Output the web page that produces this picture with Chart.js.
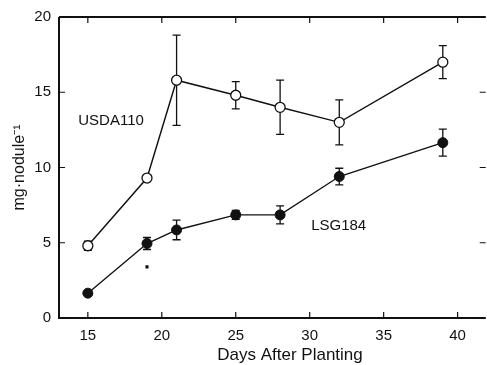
<!DOCTYPE html>
<html>
<head>
<meta charset="utf-8">
<script src="https://cdn.jsdelivr.net/npm/chart.js@4/dist/chart.umd.min.js"></script>
<style>
  html, body { margin: 0; padding: 0; background: #fff; overflow: hidden; }
  #wrap { width: 492px; height: 365px; }
</style>
</head>
<body>
<div id="wrap"><canvas id="noduleChart"></canvas></div>
<script>
// data
var days = [15, 19, 21, 25, 28, 32, 39];
var usdaMean = [4.8, 9.3, 15.8, 14.8, 14.0, 13.0, 17.0];
var usdaErr = [0.3, 0, 3.0, 0.9, 1.8, 1.5, 1.1];
var lsgMean = [1.65, 4.95, 5.85, 6.85, 6.85, 9.4, 11.65];
var lsgErr = [0, 0.4, 0.65, 0.3, 0.6, 0.55, 0.9];
var strayPoint = [{ x: 19, y: 3.4 }];
var xTicks = [15, 20, 25, 30, 35, 40];
var yTicks = [0, 5, 10, 15, 20];
var seriesLabels = [
  { text: 'USDA110', x: 14.35, y: 13.1 },
  { text: 'LSG184', x: 30.1, y: 6.15 }
];
var xTitle = 'Days After Planting';

function toPoints(xs, ys) {
  return xs.map(function (x, i) { return { x: x, y: ys[i] }; });
}

var FONT = '"Liberation Sans", Arial, sans-serif';

// error bars (drawn under the markers)
var errorBars = {
  id: 'errorBars',
  beforeDatasetsDraw: function (chart) {
    var ctx = chart.ctx, xs = chart.scales.x, ys = chart.scales.y;
    ctx.save();
    ctx.strokeStyle = '#111';
    ctx.lineWidth = 1.3;
    [[usdaMean, usdaErr], [lsgMean, lsgErr]].forEach(function (s) {
      days.forEach(function (d, i) {
        var e = s[1][i];
        if (!e) return;
        var px = xs.getPixelForValue(d);
        var top = ys.getPixelForValue(s[0][i] + e);
        var bot = ys.getPixelForValue(s[0][i] - e);
        ctx.beginPath();
        ctx.moveTo(px, top); ctx.lineTo(px, bot);
        ctx.moveTo(px - 4, top); ctx.lineTo(px + 4, top);
        ctx.moveTo(px - 4, bot); ctx.lineTo(px + 4, bot);
        ctx.stroke();
      });
    });
    ctx.restore();
  }
};

// frame with inward ticks, series labels and the x title
var frame = {
  id: 'frame',
  afterDraw: function (chart) {
    var ctx = chart.ctx, a = chart.chartArea, xs = chart.scales.x, ys = chart.scales.y;
    ctx.save();
    ctx.strokeStyle = '#111';
    ctx.lineWidth = 2;
    ctx.beginPath();
    ctx.moveTo(a.left, a.top); ctx.lineTo(a.left, a.bottom); ctx.lineTo(a.right, a.bottom);
    ctx.moveTo(a.left, a.top); ctx.lineTo(a.right, a.top);
    ctx.stroke();
    ctx.lineWidth = 1.2;
    ctx.beginPath();
    xTicks.forEach(function (t) {
      var px = xs.getPixelForValue(t);
      ctx.moveTo(px, a.bottom); ctx.lineTo(px, a.bottom - 6);
      ctx.moveTo(px, a.top); ctx.lineTo(px, a.top + 6);
    });
    yTicks.forEach(function (t) {
      var py = ys.getPixelForValue(t);
      ctx.moveTo(a.left, py); ctx.lineTo(a.left + 6, py);
      ctx.moveTo(a.right, py); ctx.lineTo(a.right - 6, py);
    });
    ctx.stroke();
    ctx.fillStyle = '#111';
    ctx.font = '15px ' + FONT;
    ctx.textBaseline = 'middle';
    ctx.textAlign = 'left';
    seriesLabels.forEach(function (l) {
      ctx.fillText(l.text, xs.getPixelForValue(l.x), ys.getPixelForValue(l.y));
    });
    ctx.font = '17px ' + FONT;
    ctx.textAlign = 'center';
    ctx.fillText(xTitle, a.left + 231, a.bottom + 37);
    ctx.restore();
  }
};

var ctxNodule = document.getElementById('noduleChart').getContext('2d');
var noduleChart = new Chart(ctxNodule, {
  type: 'scatter',
  data: {
    datasets: [{
      label: 'USDA110',
      data: toPoints(days, usdaMean),
      showLine: true,
      borderColor: '#111',
      borderWidth: 1.4,
      pointRadius: 5,
      pointBackgroundColor: '#fff',
      pointBorderColor: '#111',
      pointBorderWidth: 1.3
    }, {
      label: 'LSG184',
      data: toPoints(days, lsgMean),
      showLine: true,
      borderColor: '#111',
      borderWidth: 1.4,
      pointRadius: 5,
      pointBackgroundColor: '#111',
      pointBorderColor: '#111',
      pointBorderWidth: 1
    }, {
      label: 'stray',
      data: strayPoint,
      pointStyle: 'rect',
      pointRadius: 2.2,
      pointBackgroundColor: '#111',
      pointBorderColor: '#111',
      pointBorderWidth: 0
    }]
  },
  options: {
    responsive: true,
    maintainAspectRatio: false,
    animation: false,
    events: [],
    layout: { padding: { top: 15, right: 0, left: 0, bottom: 0 } },
    plugins: {
      legend: { display: false },
      tooltip: { enabled: false }
    },
    scales: {
      x: {
        type: 'linear',
        min: 13.05,
        max: 41.9,
        grid: { display: false, drawTicks: false },
        border: { display: false },
        afterBuildTicks: function (scale) {
          scale.ticks = xTicks.map(function (v) { return { value: v }; });
        },
        afterFit: function (scale) { scale.height = 47; },
        ticks: { color: '#111', font: { family: FONT, size: 15 }, padding: 9, maxRotation: 0 }
      },
      y: {
        min: 0,
        max: 20,
        grid: { display: false, drawTicks: false },
        border: { display: false },
        afterBuildTicks: function (scale) {
          scale.ticks = yTicks.map(function (v) { return { value: v }; });
        },
        afterFit: function (scale) { scale.width = 59; },
        ticks: { color: '#111', font: { family: FONT, size: 15 }, padding: 8 },
        title: {
          display: true,
          text: 'mg\u00b7nodule\u207b\u00b9',
          color: '#111',
          font: { family: FONT, size: 16 },
          padding: { top: 10, bottom: 0 }
        }
      }
    }
  },
  plugins: [errorBars, frame]
});
</script>
</body>
</html>
